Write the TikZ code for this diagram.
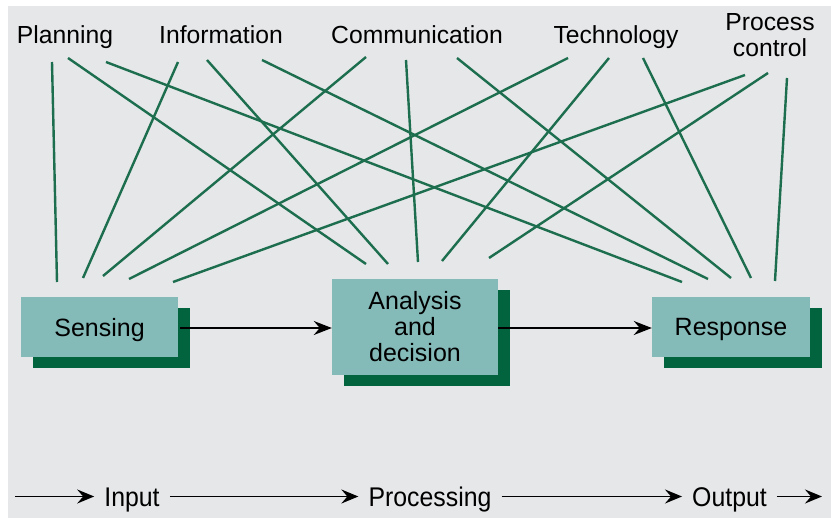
\documentclass[tikz,border=0pt]{standalone}
\usepackage{fontspec}
\setmainfont{Liberation Sans}
\newfontfamily\narrowfont[FakeStretch=0.92]{Liberation Sans}
\usetikzlibrary{arrows.meta,shadows}
\definecolor{bg}{HTML}{E6E7E9}
\definecolor{linkgreen}{HTML}{1C6E4F}
\definecolor{boxfill}{HTML}{84BAB8}
\definecolor{shadowgreen}{HTML}{02633F}
\begin{document}
\begin{tikzpicture}[x=1pt,y=-1pt,
  link/.style={linkgreen,line width=2.4pt},
  toplabel/.style={font=\fontsize{24.7}{26}\selectfont,align=center,inner sep=0pt,anchor=base},
  stagebox/.style={fill=boxfill,draw=none,inner sep=0pt,align=center,
    font=\fontsize{25}{26}\selectfont,
    drop shadow={shadow xshift=11.5pt,shadow yshift=-11.5pt,fill=shadowgreen,opacity=1}},
  flow/.style={black,line width=1.8pt,-{Stealth[length=18pt,width=14pt,inset=6pt]}},
  phase/.style={font=\narrowfont\fontsize{27}{28}\selectfont,inner xsep=10pt,inner ysep=0pt,text height=20pt,text depth=0pt},
  phasearrow/.style={black,line width=1.8pt,-{Stealth[length=17pt,width=14pt,inset=6pt]}}
]
\useasboundingbox (0,0) rectangle (831,518);
\fill[bg] (8,6) rectangle (831,518);

% top labels
\node[toplabel] (plan) at (65,44) {Planning};
\node[toplabel] (info) at (221,44) {Information};
\node[toplabel] (comm) at (417,44) {Communication};
\node[toplabel] (tech) at (616,44) {Technology};
\node[toplabel,anchor=north] (pctl) at (770,13) {Process\\control};

% line start points below labels
\coordinate (pS) at (52,62);  \coordinate (pA) at (68,58);  \coordinate (pR) at (106,62);
\coordinate (iS) at (178,62); \coordinate (iA) at (207,60); \coordinate (iR) at (262,60);
\coordinate (cS) at (366,57); \coordinate (cA) at (406,60); \coordinate (cR) at (457,58);
\coordinate (tS) at (568,58); \coordinate (tA) at (609,58); \coordinate (tR) at (643,58);
\coordinate (qS) at (745,75); \coordinate (qA) at (768,73); \coordinate (qR) at (787,78);

% line end points above boxes
\coordinate (sP) at (57,282);  \coordinate (sI) at (83,278);  \coordinate (sC) at (103,276); \coordinate (sT) at (129,279); \coordinate (sQ) at (173,282);
\coordinate (aP) at (366,264); \coordinate (aI) at (388,264); \coordinate (aC) at (418,262); \coordinate (aT) at (442,261); \coordinate (aQ) at (489,258);
\coordinate (rP) at (682,282); \coordinate (rI) at (708,279); \coordinate (rC) at (731,278); \coordinate (rT) at (751,278); \coordinate (rQ) at (775,281);

\foreach \a/\b in {pS/sP,pA/aP,pR/rP,iS/sI,iA/aI,iR/rI,cS/sC,cA/aC,cR/rC,tS/sT,tA/aT,tR/rT,qS/sQ,qA/aQ,qR/rQ}
  \draw[link] (\a) -- (\b);

% boxes
\node[stagebox,minimum width=157pt,minimum height=60pt,text depth=0pt] (sens) at (99.5,327) {Sensing};
\node[stagebox,minimum width=166pt,minimum height=96pt] (anal) at (415,327) {Analysis\\and\\decision};
\node[stagebox,minimum width=158pt,minimum height=60pt,text depth=0pt] (resp) at (731,327) {Response};

\draw[flow] (sens.east) ++(2,1) coordinate (sx) -- (sx -| anal.west);
\draw[flow] (anal.east) ++(0,1) coordinate (ax) -- (ax -| resp.west);

% bottom phase line
\node[phase] (inp) at (132,497) {Input};
\node[phase] (prc) at (430,497) {Processing};
\node[phase] (out) at (729.5,497) {Output};
\coordinate (b0) at (15,496.5);
\coordinate (b1) at (822,496.5);
\draw[phasearrow] (b0) -- (b0 -| inp.west);
\draw[phasearrow] (inp.east |- b0) -- (b0 -| prc.west);
\draw[phasearrow] (prc.east |- b0) -- (b0 -| out.west);
\draw[phasearrow] (out.east |- b0) -- (b1);
\end{tikzpicture}
\end{document}
